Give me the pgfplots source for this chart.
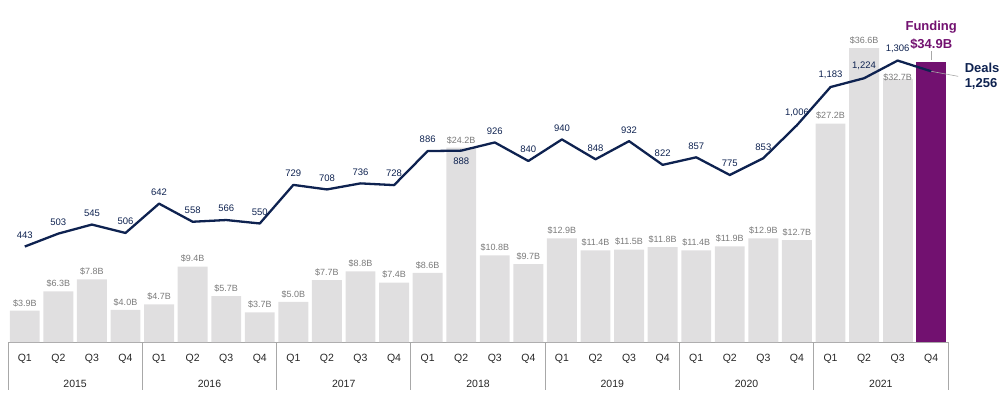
\documentclass[border=0pt]{standalone}
\usepackage{fontspec}
\setmainfont{Liberation Sans}
\usepackage{pgfplots}
\pgfplotsset{compat=1.18}
\usepackage{pgfplotstable}
\definecolor{bargray}{HTML}{E0DFE0}
\definecolor{navy}{HTML}{0E2250}
\definecolor{purp}{HTML}{721170}
\definecolor{lblgray}{HTML}{7A7A7A}
\definecolor{sepgray}{HTML}{A8A8A8}

% Funding (USD B), quarters 2015 Q1 .. 2021 Q2 (index 0..25)
\pgfplotstableread{
x f
0 3.9
1 6.3
2 7.8
3 4.0
4 4.7
5 9.4
6 5.7
7 3.7
8 5.0
9 7.7
10 8.8
11 7.4
12 8.6
13 24.2
14 10.8
15 9.7
16 12.9
17 11.4
18 11.5
19 11.8
20 11.4
21 11.9
22 12.9
23 12.7
24 27.2
25 36.6
}\fundingA

% Deals
\pgfplotstableread{
x d
0 443
1 503
2 545
3 506
4 642
5 558
6 566
7 550
8 729
9 708
10 736
11 728
12 886
13 888
14 926
15 840
16 940
17 848
18 932
19 822
20 857
21 775
22 853
23 1006
24 1183
25 1224
26 1306
27 1256
}\deals

\pgfplotsset{base/.style={width=940pt,height=342pt,scale only axis,
  xmin=-0.5,xmax=27.5,ymin=0,clip=false,
  /pgf/number format/assume math mode=true}}

\begin{document}
\begin{tikzpicture}
\path[use as bounding box] (-8pt,-55pt) rectangle (999pt,342pt);
\begin{axis}[base, ymax=42.59,
  hide y axis, axis x line*=bottom,
  x axis line style={sepgray,line width=0.8pt,-},
  xtick={0,...,27},
  xticklabels={Q1,Q2,Q3,Q4,Q1,Q2,Q3,Q4,Q1,Q2,Q3,Q4,Q1,Q2,Q3,Q4,Q1,Q2,Q3,Q4,Q1,Q2,Q3,Q4,Q1,Q2,Q3,Q4},
  major tick length=0pt,
  xticklabel style={anchor=base, yshift=-19pt, font=\fontsize{10.5}{12}\selectfont, text=black!85},
  ybar, bar width=0.89]
\addplot[fill=bargray, draw=none, bar shift=0pt, point meta=y,
  nodes near coords={\$\pgfmathprintnumber[fixed,fixed zerofill,precision=1]{\pgfplotspointmeta}B},
  every node near coord/.append style={font=\fontsize{9}{10}\selectfont, text=lblgray, yshift=0.5pt}]
  table[x=x,y=f] {\fundingA};
\addplot[fill=bargray, draw=none, bar shift=0pt, point meta=y,
  nodes near coords={\$\pgfmathprintnumber[fixed,fixed zerofill,precision=1]{\pgfplotspointmeta}B},
  every node near coord/.append style={font=\fontsize{9}{10}\selectfont, text=lblgray, yshift=-5.5pt}]
  coordinates {(26,32.7)};
\addplot[fill=purp, draw=none, bar shift=0pt] coordinates {(27,34.9)};
% category separators
\pgfplotsinvokeforeach{-0.5,3.5,7.5,11.5,15.5,19.5,23.5,27.5}{
  \draw[sepgray, line width=0.8pt] (axis cs:#1,0) -- ++(0pt,-48pt);
}
\node[anchor=base, yshift=-45pt, font=\fontsize{10.5}{12}\selectfont, text=black!85] at (axis cs:1.5,0) {2015};
\node[anchor=base, yshift=-45pt, font=\fontsize{10.5}{12}\selectfont, text=black!85] at (axis cs:5.5,0) {2016};
\node[anchor=base, yshift=-45pt, font=\fontsize{10.5}{12}\selectfont, text=black!85] at (axis cs:9.5,0) {2017};
\node[anchor=base, yshift=-45pt, font=\fontsize{10.5}{12}\selectfont, text=black!85] at (axis cs:13.5,0) {2018};
\node[anchor=base, yshift=-45pt, font=\fontsize{10.5}{12}\selectfont, text=black!85] at (axis cs:17.5,0) {2019};
\node[anchor=base, yshift=-45pt, font=\fontsize{10.5}{12}\selectfont, text=black!85] at (axis cs:21.5,0) {2020};
\node[anchor=base, yshift=-45pt, font=\fontsize{10.5}{12}\selectfont, text=black!85] at (axis cs:25.5,0) {2021};
% Funding callout
\draw[sepgray, line width=0.6pt] (axis cs:27,34.9) ++(0pt,1.5pt) -- ++(0pt,9pt);
\node[yshift=18pt, text=purp, font=\bfseries\fontsize{13}{15}\selectfont] at (axis cs:27,34.9) {\$34.9B};
\node[yshift=35pt, text=purp, font=\bfseries\fontsize{13}{15}\selectfont] at (axis cs:27,34.9) {Funding};
\end{axis}

\begin{axis}[base, ymax=1587, hide x axis, hide y axis,
  /pgf/number format/1000 sep={,}]
\draw[sepgray, line width=0.6pt] (axis cs:27,1256) -- ++(27pt,-5pt);
\addplot[navy, line width=2.3pt, mark=none, line join=round] table[x=x,y=d] {\deals};
\addplot[draw=none, mark=none, point meta=y, nodes near coords,
  every node near coord/.append style={text=navy, font=\fontsize{9.5}{11}\selectfont, yshift=4.5pt}]
  coordinates {(0,443)(1,503)(2,545)(3,506)(4,642)(5,558)(6,566)(7,550)(8,729)(9,708)(10,736)(11,728)(12,886)(14,926)(15,840)(16,940)(17,848)(18,932)(19,822)(20,857)(21,775)(22,853)(23,1006)(24,1183)(25,1224)(26,1306)};
\addplot[draw=none, mark=none, point meta=y, nodes near coords,
  every node near coord/.append style={text=navy, font=\fontsize{9.5}{11}\selectfont, yshift=-17.5pt}]
  coordinates {(13,888)};
\node[anchor=west, xshift=30pt, yshift=3pt, text=navy, font=\bfseries\fontsize{13}{15}\selectfont] at (axis cs:27,1256) {Deals};
\node[anchor=west, xshift=30pt, yshift=-13pt, text=navy, font=\bfseries\fontsize{13}{15}\selectfont] at (axis cs:27,1256) {1,256};
\end{axis}
\end{tikzpicture}
\end{document}
